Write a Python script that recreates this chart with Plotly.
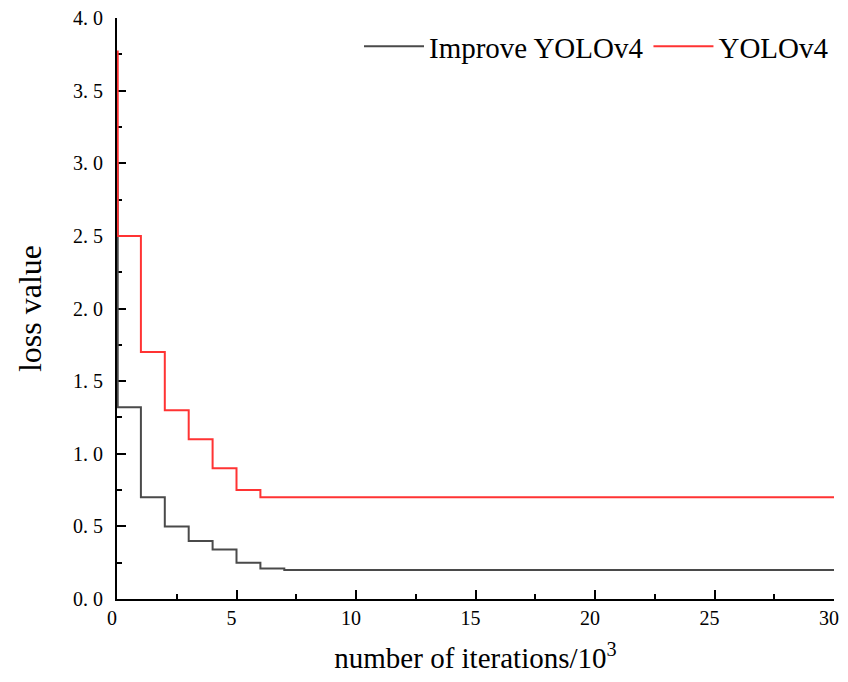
import plotly.graph_objects as go

# data (iterations in thousands)
x_improve = [0, 0.03, 1, 2, 3, 4, 5, 6, 7, 30]
y_improve = [3.0, 1.32, 0.70, 0.50, 0.40, 0.34, 0.25, 0.21, 0.20, 0.20]
x_yolo = [0, 0.03, 1, 2, 3, 4, 5, 6, 30]
y_yolo = [3.77, 2.50, 1.70, 1.30, 1.10, 0.90, 0.75, 0.70, 0.70]
series_names = ["Improve YOLOv4", "YOLOv4"]
x_ticks = [0, 5, 10, 15, 20, 25, 30]
y_ticks = [0, 0.5, 1.0, 1.5, 2.0, 2.5, 3.0, 3.5, 4.0]
y_tick_labels = ["0. 0", "0. 5", "1. 0", "1. 5", "2. 0", "2. 5", "3. 0", "3. 5", "4. 0"]

serif = "Liberation Serif"

fig = go.Figure()
fig.add_trace(go.Scatter(x=x_improve, y=y_improve, mode="lines", name=series_names[0],
                         line=dict(color="#4a4a4a", width=2, shape="hv")))
fig.add_trace(go.Scatter(x=x_yolo, y=y_yolo, mode="lines", name=series_names[1],
                         line=dict(color="#ff3333", width=2, shape="hv")))

# page body adds an 8px margin
fig.update_layout(
    width=840, height=666,
    margin=dict(l=109, r=14, t=10, b=75),
    plot_bgcolor="white", paper_bgcolor="white",
    font=dict(family=serif, color="black"),
    legend=dict(orientation="h", x=1.0, xanchor="right", y=0.995, yanchor="top",
                font=dict(size=29, family=serif), bgcolor="rgba(0,0,0,0)",
                itemwidth=60, tracegroupgap=0),
    showlegend=True,
)
fig.update_xaxes(
    range=[0, 30], tickvals=x_ticks, showgrid=False, zeroline=False, automargin=False,
    showline=True, linecolor="black", linewidth=2, mirror=False,
    ticks="inside", ticklen=9, tickwidth=2, tickcolor="black",
    minor=dict(dtick=2.5, ticks="inside", ticklen=5, tickwidth=2, tickcolor="black", showgrid=False),
    tickfont=dict(size=20, family=serif), ticklabeloverflow="allow", ticklabelshift=-5,
    title=dict(text="number of iterations/10<sup>3</sup>", font=dict(size=29, family=serif), standoff=20),
    layer="below traces",
)
fig.update_yaxes(
    range=[0, 4], tickvals=y_ticks, ticktext=y_tick_labels, showgrid=False, zeroline=False, automargin=False,
    showline=True, linecolor="black", linewidth=2, mirror=False,
    ticks="inside", ticklen=9, tickwidth=2, tickcolor="black",
    minor=dict(dtick=0.25, ticks="inside", ticklen=5, tickwidth=2, tickcolor="black", showgrid=False),
    tickfont=dict(size=20, family=serif), ticklabelstandoff=8, ticklabeloverflow="allow",
    title=dict(text="loss value", font=dict(size=32, family=serif), standoff=22),
    layer="below traces",
)

fig.write_html("out.html")
